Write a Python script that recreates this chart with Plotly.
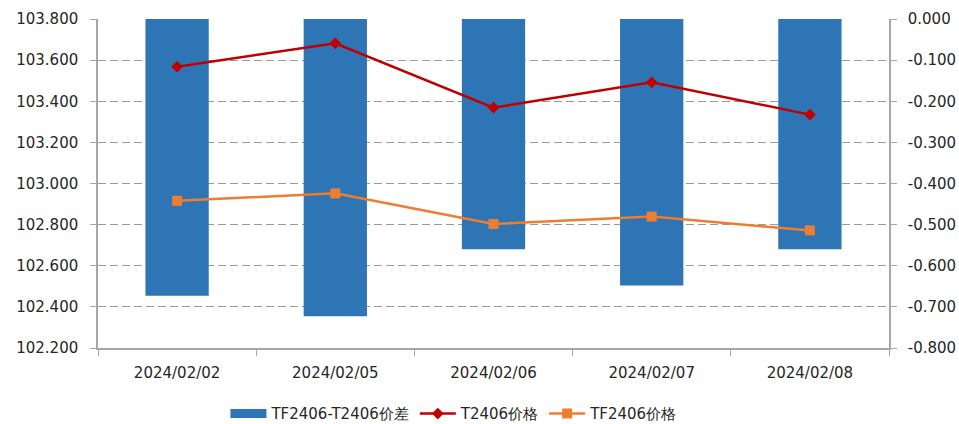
import plotly.graph_objects as go

dates = ["2024/02/02", "2024/02/05", "2024/02/06", "2024/02/07", "2024/02/08"]
spread = [-0.673, -0.723, -0.560, -0.648, -0.560]
t_price = [103.568, 103.682, 103.369, 103.492, 103.335]
tf_price = [102.916, 102.952, 102.803, 102.839, 102.772]
right_tick_vals = [0.0, -0.1, -0.2, -0.3, -0.4, -0.5, -0.6, -0.7, -0.8]
right_tick_text = ["0.000", "-0.100", "-0.200", "-0.300", "-0.400",
                   "-0.500", "-0.600", "-0.700", "-0.800"]

FONT = "DejaVu Sans"
TXT = "#262626"
AX = "#a6a6a6"
BLUE = "#2E75B6"

fig = go.Figure()
# legend-only swatch for the bars (wide rectangle like the reference)
fig.add_trace(go.Scatter(
    x=[None], y=[None], name="TF2406-T2406价差", mode="lines",
    line=dict(color=BLUE, width=9), yaxis="y2", legendrank=1,
))
fig.add_trace(go.Bar(
    x=dates, y=spread, name="TF2406-T2406价差",
    marker=dict(color=BLUE, line=dict(width=0)),
    yaxis="y", showlegend=False,
))
fig.add_trace(go.Scatter(
    x=dates, y=t_price, name="T2406价格", mode="lines+markers",
    line=dict(color="#C00000", width=2.5),
    marker=dict(symbol="diamond", size=9, color="#C00000"),
    yaxis="y2", legendrank=2,
))
fig.add_trace(go.Scatter(
    x=dates, y=tf_price, name="TF2406价格", mode="lines+markers",
    line=dict(color="#ED7D31", width=2.5),
    marker=dict(symbol="square", size=10, color="#ED7D31"),
    yaxis="y2", legendrank=3,
))

fig.update_layout(
    width=959, height=424,
    margin=dict(l=98, r=70, t=19, b=76, autoexpand=False),
    paper_bgcolor="white", plot_bgcolor="white",
    font=dict(family=FONT, size=15, color=TXT),
    bargap=0.6,
    showlegend=True,
    hovermode=False,
    legend=dict(orientation="h", x=0.45, xanchor="center", y=-0.2, yanchor="middle",
                font=dict(family=FONT, size=15, color=TXT), traceorder="normal",
                itemwidth=36),
    xaxis=dict(
        type="category", tickson="boundaries", ticks="outside", ticklen=6,
        tickcolor=AX, showline=True, linecolor=AX, linewidth=1.5,
        showgrid=False, tickfont=dict(size=15, color=TXT), automargin=False,
        ticklabelstandoff=10,
    ),
    yaxis=dict(
        side="right", range=[-0.8, 0],
        tickmode="array", tickvals=right_tick_vals, ticktext=right_tick_text,
        showline=True, linecolor=AX, linewidth=1.5, ticks="outside", ticklen=6, tickcolor=AX,
        showgrid=True, gridcolor="#9a9a9a", griddash="8px,4px", gridwidth=1,
        zeroline=False, tickfont=dict(size=15, color=TXT), automargin=False,
        ticklabelstandoff=8,
    ),
    yaxis2=dict(
        overlaying="y", side="left", range=[102.2, 103.8], dtick=0.2, tickformat=".3f",
        showline=True, linecolor=AX, linewidth=1.5, ticks="outside", ticklen=6, tickcolor=AX,
        showgrid=False, zeroline=False, tickfont=dict(size=15, color=TXT), automargin=False,
        ticklabelstandoff=9,
    ),
)

fig.write_html(
    "out.html",
    config={"displayModeBar": False},
    post_script="document.body.style.margin='0';document.body.style.overflow='hidden';",
)
